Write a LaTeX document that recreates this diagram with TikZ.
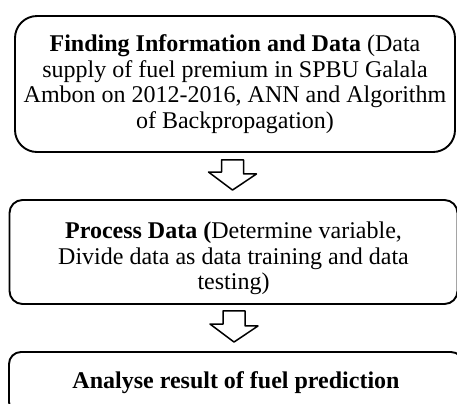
\documentclass[tikz,border=0pt]{standalone}
\usepackage{fontspec}
\setmainfont{Liberation Serif}
\usetikzlibrary{calc}
\begin{document}
\begin{tikzpicture}[x=1bp,y=-1bp,line join=round]
\tikzset{
  stepbox/.style={draw, line width=1.9bp, align=center, inner sep=0pt,
    font=\fontsize{24bp}{25.5bp}\selectfont},
  blockarrow/.style={draw, line width=1.5bp, fill=white}
}
\useasboundingbox (0,0) rectangle (457,403);
\clip (0,0) rectangle (457,403);
\node[stepbox, rounded corners=22bp, minimum width=440bp, minimum height=136bp] (b1) at (235,84)
  {\textbf{Finding Information and Data} (Data\\ supply of fuel premium in SPBU Galala\\ Ambon on 2012-2016, ANN and Algorithm\\ of Backpropagation)};
\node[stepbox, rounded corners=13bp, minimum width=448bp, minimum height=104bp] (b2) at (233.5,252)
  {\rule{0pt}{30bp}\textbf{Process Data (}Determine variable,\\ Divide data as data training and data\\ testing)};
\node[stepbox, rounded corners=12bp, minimum width=454bp, minimum height=62bp] (b3) at (236,383)
  {\textbf{Analyse result of fuel prediction}};
% block arrows
\coordinate (a1top) at ($(b1.south)+(-2.5,7)$);
\coordinate (a1tip) at ($(b2.north)+(-1,-9)$);
\draw[blockarrow] (a1top) ++(-11,0) -- ++(22,0) -- ++(0,14) -- ++(13,0) -- (a1tip) -- ++(-24,-18) -- ++(13,0) -- cycle;
\coordinate (a2top) at ($(b2.south)+(0.5,6)$);
\coordinate (a2tip) at ($(b3.north)+(-2,-9)$);
\draw[blockarrow] (a2top) ++(-11,0) -- ++(22,0) -- ++(0,15) -- ++(13,0) -- (a2tip) -- ++(-24,-18) -- ++(13,0) -- cycle;
\end{tikzpicture}
\end{document}
